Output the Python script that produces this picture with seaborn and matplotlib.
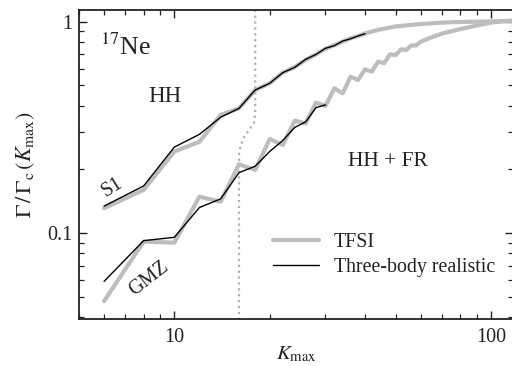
import matplotlib
matplotlib.use("Agg")
import matplotlib.pyplot as plt
from matplotlib.lines import Line2D
from matplotlib.ticker import LogLocator, NullFormatter, FixedLocator, FixedFormatter
import seaborn as sns
import pandas as pd

# ---- data ----
K_s1_3b = [6, 8, 10, 12, 14, 16, 18, 20, 22, 24, 26, 28, 30, 32, 34, 36, 38, 40]
G_s1_3b = [0.134, 0.167, 0.255, 0.293, 0.353, 0.389, 0.475, 0.511, 0.574, 0.608,
           0.664, 0.700, 0.748, 0.770, 0.810, 0.830, 0.856, 0.877]

K_s1_tfsi = [6, 8, 10, 12, 14, 16, 18, 20, 22, 24, 26, 28, 30, 32, 34, 36, 38, 40,
             44, 50, 60, 70, 80, 100, 117]
G_s1_tfsi = [0.131, 0.160, 0.243, 0.270, 0.362, 0.389, 0.475, 0.511, 0.574, 0.610,
             0.660, 0.700, 0.745, 0.775, 0.805, 0.835, 0.855, 0.880,
             0.915, 0.950, 0.975, 0.990, 0.997, 1.003, 1.010]

K_gmz_3b = [6, 8, 10, 12, 14, 16, 18, 20, 22, 24, 26, 28, 30]
G_gmz_3b = [0.059, 0.092, 0.0954, 0.132, 0.145, 0.193, 0.207, 0.243, 0.274, 0.316,
            0.336, 0.392, 0.404]

K_gmz_tfsi = [6, 8, 10, 12, 14, 16, 18, 20, 22, 24, 26, 28, 30, 32, 34, 36, 38, 40,
              42, 44, 46, 48, 50, 52, 54, 56, 58, 60, 64, 70, 80, 90, 100, 110, 117]
G_gmz_tfsi = [0.0476, 0.091, 0.090, 0.1486, 0.1406, 0.2114, 0.1987, 0.2786, 0.261,
              0.340, 0.330, 0.414, 0.399, 0.484, 0.458, 0.549, 0.530, 0.595, 0.580,
              0.647, 0.637, 0.701, 0.696, 0.740, 0.735, 0.772, 0.772, 0.804, 0.837,
              0.879, 0.923, 0.959, 0.991, 1.005, 1.012]

# boundary between HH and HH+FR regions
K_bound = [16, 16, 16.2, 16.6, 17.3, 17.9, 18, 18]
G_bound = [0.03, 0.235, 0.26, 0.285, 0.31, 0.335, 0.37, 1.3]

legend_labels = ["TFSI", "Three-body realistic"]

# ---- style ----
sns.set_theme(style="ticks")
plt.rcParams["font.family"] = ["Liberation Serif", "DejaVu Serif"]
plt.rcParams["mathtext.fontset"] = "stix"

GRAY = "#bdbdbd"
INK = "#222222"
fig = plt.figure(figsize=(5.12, 3.66), dpi=100)
ax = fig.add_axes([79 / 512, (366 - 318.7) / 366, (513 - 79) / 512, (318.7 - 10) / 366])

def draw(K, G, color, lw, ls="-"):
    df = pd.DataFrame({"K": K, "G": G})
    sns.lineplot(data=df, x="K", y="G", ax=ax, color=color, linewidth=lw,
                 linestyle=ls, sort=False, estimator=None)

draw(K_bound, G_bound, "#b0b0b0", 1.6, ":")
draw(K_s1_tfsi, G_s1_tfsi, GRAY, 3.0)
draw(K_gmz_tfsi, G_gmz_tfsi, GRAY, 3.0)
draw(K_s1_3b, G_s1_3b, "black", 1.0)
draw(K_gmz_3b, G_gmz_3b, "black", 1.0)

ax.set_xscale("log")
ax.set_yscale("log")
ax.set_xlim(5.0, 117.3)
ax.set_ylim(0.0393, 1.136)

ax.xaxis.set_major_locator(FixedLocator([10, 100]))
ax.xaxis.set_major_formatter(FixedFormatter(["10", "100"]))
ax.xaxis.set_minor_locator(LogLocator(base=10, subs=[2, 3, 4, 5, 6, 7, 8, 9]))
ax.xaxis.set_minor_formatter(NullFormatter())
ax.yaxis.set_major_locator(FixedLocator([0.1, 1]))
ax.yaxis.set_major_formatter(FixedFormatter(["0.1", "1"]))
ax.yaxis.set_minor_locator(LogLocator(base=10, subs=[2, 3, 4, 5, 6, 7, 8, 9]))
ax.yaxis.set_minor_formatter(NullFormatter())

ax.tick_params(which="both", direction="in", top=True, right=True,
               colors=INK, labelcolor=INK, labelsize=14.5)
ax.tick_params(which="major", length=6, width=1.0)
ax.tick_params(axis="x", which="major", pad=7)
ax.tick_params(axis="y", which="major", pad=5)
ax.tick_params(which="minor", length=3.5, width=0.9)
for s in ax.spines.values():
    s.set_color(INK)
    s.set_linewidth(1.3)

ax.set_xlabel(r"$K_{\rm max}$", fontsize=15, color=INK, labelpad=-2)
ax.set_ylabel(r"$\Gamma\,/\,\Gamma_{\rm c}\,(K_{\rm max})$", fontsize=16,
              color=INK, labelpad=7)

ax.text(5.84, 0.76, r"$^{17}$Ne", ha="left", va="center", fontsize=18.5, color=INK)
ax.text(9.37, 0.445, "HH", ha="center", va="center", color=INK, fontsize=16.5)
ax.text(47.3, 0.217, "HH + FR", ha="center", va="center", color=INK, fontsize=15.5)
ax.text(6.37, 0.165, "S1", ha="center", va="center", rotation=32, color=INK, fontsize=14.5)
ax.text(8.34, 0.0606, "GMZ", ha="center", va="center", rotation=38, color=INK, fontsize=14.5)

handles = [Line2D([], [], color=GRAY, lw=3.0), Line2D([], [], color="black", lw=1.0)]
leg = ax.legend(handles, legend_labels, loc="upper left", bbox_to_anchor=(0.447, 0.279),
                frameon=False, fontsize=14.3, handlelength=2.3, handletextpad=0.75,
                borderaxespad=0, borderpad=0, labelspacing=0.3)
for t in leg.get_texts():
    t.set_color(INK)

fig.savefig("out.png", dpi=100)
